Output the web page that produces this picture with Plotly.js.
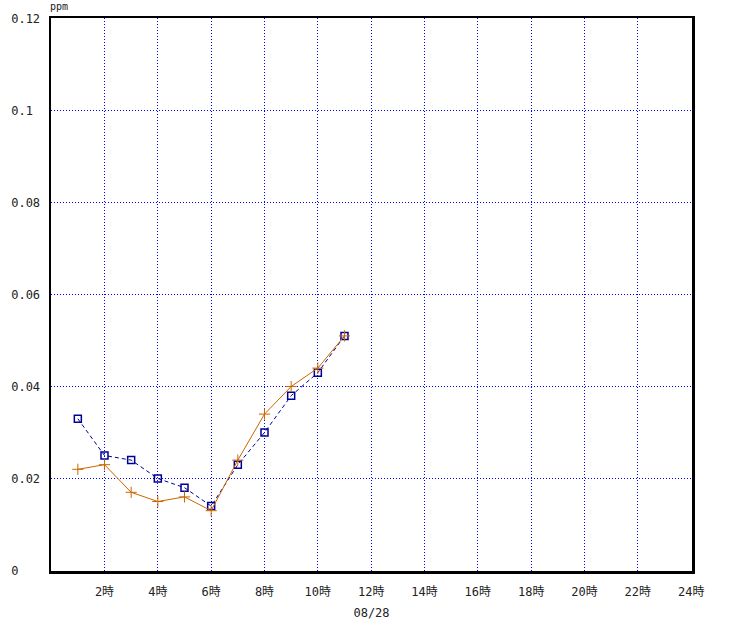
<!DOCTYPE html>
<html><head><meta charset="utf-8">
<script src="https://cdn.plot.ly/plotly-3.0.1.min.js"></script>
<style>body{margin:0;background:#fff}#c{width:738px;height:620px}</style>
</head><body><div id="c"></div>
<script>
const hours = [1,2,3,4,5,6,7,8,9,10,11];
const seriesBlue = [0.033,0.025,0.024,0.020,0.018,0.014,0.023,0.030,0.038,0.043,0.051];
const seriesOrange = [0.022,0.023,0.017,0.015,0.016,0.013,0.024,0.034,0.040,0.044,0.051];
const xTickVals = [2,4,6,8,10,12,14,16,18,20,22,24];
const xTickText = ['2時','4時','6時','8時','10時','12時','14時','16時','18時','20時','22時','24時'];
const yTickVals = [0,0.02,0.04,0.06,0.08,0.1,0.12];
const yTickText = ['0','0.02','0.04','0.06','0.08','0.1','0.12'];

const NB='\u00a0';
const yText = yTickText.map(t => t + NB.repeat(Math.max(0,4-t.length)));
const font = "'DejaVu Sans Mono', 'Noto Sans CJK JP', monospace";
const txt = {family:font,size:12,color:'#222'};
// sub-pixel padding of the ranges so 1px dotted grid lines render crisply
const pxX = 640/24, pxY = 552/0.12;
const xPadL = 0.1667/pxX, xPadR = 0.8333/pxX;
const yPad = 0.5/pxY;

const traces = [
 {x:hours,y:seriesBlue,type:'scatter',mode:'lines+markers',
  line:{color:'#000099',width:1,dash:'4px,3px'},
  marker:{symbol:'square-open',size:7,color:'#000099',line:{width:1.5,color:'#000099'}},
  hoverinfo:'skip'},
 {x:hours,y:seriesOrange,type:'scatter',mode:'lines+markers',
  line:{color:'#cc6600',width:1},
  marker:{symbol:'cross-thin-open',size:8,color:'#cc6600',line:{width:1,color:'#cc6600'}},
  hoverinfo:'skip'}
];
const layout = {
 width:738,height:620,
 margin:{l:51,r:46,t:18,b:49},
 paper_bgcolor:'#fff',plot_bgcolor:'#fff',
 showlegend:false,
 font:txt,
 xaxis:{range:[0-xPadL,24+xPadR],tickvals:xTickVals,ticktext:xTickText,showgrid:true,
  gridcolor:'#0000ff',griddash:'1px,2px',gridwidth:1,zeroline:false,
  showline:true,linecolor:'#000',linewidth:2.5,mirror:true,
  ticks:'outside',ticklen:8,tickcolor:'rgba(0,0,0,0)',
  tickfont:txt,
  title:{text:'08/28',font:txt,standoff:12}},
 yaxis:{range:[0-yPad,0.12+yPad],tickvals:yTickVals,ticktext:yText,showgrid:true,
  gridcolor:'#0000ff',griddash:'1px,2px',gridwidth:1,zeroline:false,
  showline:true,linecolor:'#000',linewidth:2.5,mirror:true,ticks:'',
  ticklabelstandoff:6,
  tickfont:txt},
 annotations:[{text:'ppm',xref:'paper',yref:'paper',x:0,y:1,xanchor:'left',yanchor:'bottom',
  xshift:-3,yshift:4,showarrow:false,font:{family:font,size:10,color:'#222'}}]
};
Plotly.newPlot('c',traces,layout,{staticPlot:true});
</script></body></html>
